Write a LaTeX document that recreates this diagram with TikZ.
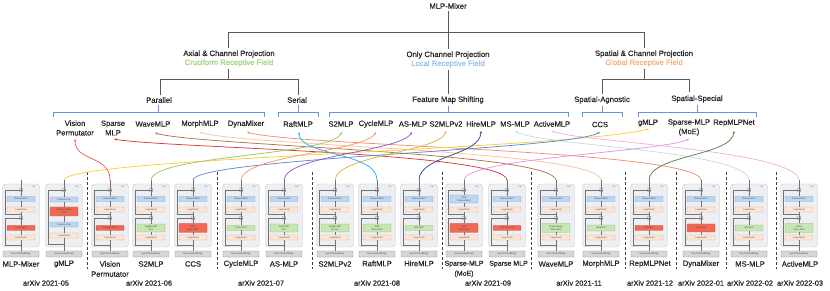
\documentclass[tikz,border=0pt]{standalone}
\usepackage{fontspec}
\setmainfont{Liberation Sans}
\newfontfamily\medfont{Liberation Sans}[FakeBold=0.6]
\usetikzlibrary{arrows.meta,calc}
\definecolor{tline}{RGB}{90,90,90}
\definecolor{brk}{RGB}{100,150,220}
\definecolor{cgreenT}{RGB}{160,210,130}
\definecolor{cblueT}{RGB}{150,190,235}
\definecolor{corangeT}{RGB}{247,175,125}
\definecolor{oF}{RGB}{238,239,243}
\definecolor{oD}{RGB}{195,198,208}
\definecolor{bF}{RGB}{190,215,240}
\definecolor{bD}{RGB}{125,165,215}
\definecolor{lF}{RGB}{252,230,215}
\definecolor{lD}{RGB}{220,175,145}
\definecolor{rF}{RGB}{240,105,85}
\definecolor{rD}{RGB}{205,75,60}
\definecolor{gF}{RGB}{200,230,180}
\definecolor{gD}{RGB}{140,190,110}
\definecolor{eF}{RGB}{215,215,215}
\definecolor{eD}{RGB}{140,140,140}
\definecolor{cGm}{RGB}{255,205,60}
\definecolor{cVip}{RGB}{245,90,90}
\definecolor{cSp}{RGB}{215,60,60}
\definecolor{cWave}{RGB}{175,115,75}
\definecolor{cMorph}{RGB}{250,195,160}
\definecolor{cDyna}{RGB}{245,140,120}
\definecolor{cRaft}{RGB}{40,180,235}
\definecolor{cS2}{RGB}{150,200,100}
\definecolor{cCyc}{RGB}{245,160,90}
\definecolor{cAs}{RGB}{150,90,200}
\definecolor{cS2v}{RGB}{220,180,60}
\definecolor{cHire}{RGB}{45,75,145}
\definecolor{cCcs}{RGB}{90,140,215}
\definecolor{cMoe}{RGB}{225,150,225}
\definecolor{cRep}{RGB}{95,125,75}
\definecolor{cMs}{RGB}{195,220,240}
\definecolor{cAct}{RGB}{240,175,230}
\tikzset{
  every node/.style={inner sep=0pt, outer sep=0pt},
  hd/.style={font=\medfont\fontsize{7.7}{9}\selectfont, align=center, text=black!85, inner sep=2pt},
  nm/.style={font=\medfont\fontsize{7.6}{9.5}\selectfont, align=center, text=black!85},
  bl/.style={font=\medfont\fontsize{7.6}{10}\selectfont, align=center, text=black!85},
  yr/.style={font=\medfont\fontsize{7.4}{9}\selectfont, text=black!85},
  tree/.style={draw=tline, line width=0.6pt},
  bracket/.style={draw=brk, line width=0.6pt},
  sep/.style={draw=black!75, line width=0.6pt, dash pattern=on 3pt off 2pt},
  cv/.style={line width=0.75pt, -{Stealth[length=2.6pt,width=2.4pt]}},
  outerbox/.style={draw=oD, fill=oF, rounded corners=3pt, minimum width=37pt, minimum height=63pt, line width=0.4pt},
  embbox/.style={draw=eD, fill=eF, rounded corners=0.5pt, minimum width=36pt, minimum height=6pt, line width=0.35pt, font=\fontsize{2.4}{2.8}\selectfont, text=black!70},
  ibox/.style={draw, rounded corners=0.6pt, minimum width=28pt, minimum height=5pt, line width=0.3pt, font=\fontsize{2.3}{2.7}\selectfont, align=center, text=black!75},
  bluebox/.style={ibox, fill=bF, draw=bD},
  lnbox/.style={ibox, fill=lF, draw=lD},
  redbox/.style={ibox, fill=rF, draw=rD},
  greenbox/.style={ibox, fill=gF, draw=gD},
  plusnode/.style={circle, draw=black!55, fill=white, minimum size=4pt, line width=0.3pt,
    path picture={\draw[black!55, line width=0.3pt] (path picture bounding box.north)--(path picture bounding box.south) (path picture bounding box.west)--(path picture bounding box.east);}},
  lxlab/.style={font=\fontsize{2.6}{3}\selectfont, text=black!70},
  stem/.style={draw=black!55, line width=0.35pt}
}
% #1 name, #2 cx, #3 top text, #4 top style, #5 top height, #6 bottom text, #7 bottom style, #8 bottom height
\newcommand{\mlpblk}[8]{%
\begin{scope}[shift={(#2,0)}]
\node[outerbox] (#1-o) at (0,215.5) {};
\node[embbox] (#1-in) at (0,254) {Input Embeddings};
\node[plusnode] (#1-p1) at (0,190) {};
\node[#4, minimum height=#5] (#1-a) at (0,199) {#3};
\node[lnbox] (#1-l1) at (0,209.5) {LayerNorm};
\node[plusnode] (#1-p2) at (0,218) {};
\node[#7, minimum height=#8] (#1-b) at (0,228) {#6};
\node[lnbox] (#1-l2) at (0,237.5) {LayerNorm};
\node[lxlab] (#1-lx) at (13,187) {Lx};
\coordinate (#1-top) at (0,180);
\coordinate (#1-r1) at (0,245);
\coordinate (#1-r2) at (0,214.3);
\draw[stem] (#1-in) -- (#1-l2) -- (#1-b) -- (#1-p2) -- (#1-l1) -- (#1-a) -- (#1-p1) -- (#1-top);
\draw[stem] (#1-r1) -| (-16,218) -- (#1-p2);
\draw[stem] (#1-r2) -| (-16,190) -- (#1-p1);
\end{scope}}
\begin{document}
\begin{tikzpicture}[x=1pt,y=-1pt]
\useasboundingbox (0,0) rectangle (830,291);
% ---------- taxonomy tree ----------
\node[hd] (mixer) at (448,6) {MLP-Mixer};
\node[hd] (axial) at (229,58.5) {Axial \& Channel Projection\\{\color{cgreenT}Cruciform Receptive Field}};
\node[hd] (only) at (448,59.5) {Only Channel Projection\\{\color{cblueT}Local Receptive Field}};
\node[hd] (spatial) at (644,58.5) {Spatial \& Channel Projection\\{\color{corangeT}Global Receptive Field}};
\node[hd] (parallel) at (159,100) {Parallel};
\node[hd] (serial) at (297,100) {Serial};
\node[hd] (fms) at (448,100) {Feature Map Shifting};
\node[hd] (agn) at (602,100) {Spatial-Agnostic};
\node[hd] (spec) at (697,99) {Spatial-Special};
\coordinate (bar) at (448,32);
\coordinate (bar2) at (228,79);
\coordinate (bar3) at (644,79);
\coordinate (specup) at (689,79);
\coordinate (specdn) at (689,92);
\draw[tree] (mixer.south) -- (only.north);
\draw[tree] (axial.north -| 228,0) -- (228,32) -- (644,32) -- (spatial.north -| 644,0);
\draw[tree] (axial.south -| 228,0) -- (bar2);
\draw[tree] (parallel.north -| 160,0) -- (160,79) -- (298,79) -- (serial.north -| 298,0);
\draw[tree] (only.south) -- (fms.north);
\draw[tree] (spatial.south) -- (bar3);
\draw[tree] (agn.north) -- (agn.north |- bar3) -- (specup) -- (specdn);
% brackets
\draw[bracket] (parallel.south -| 158,0) -- (158,112);
\draw[bracket] (53,117) -- (53,112) -- (264,112) -- (264,117);
\draw[bracket] (serial.south -| 298,0) -- (298,112);
\draw[bracket] (278,117) -- (278,112) -- (318,112) -- (318,117);
\draw[bracket] (fms.south) -- (448,112);
\draw[bracket] (329,117) -- (329,112) -- (568,112) -- (568,117);
\draw[bracket] (agn.south) -- (602,112);
\draw[bracket] (582,117) -- (582,112) -- (622,112) -- (622,117);
\draw[bracket] (spec.south -| 697,0) -- (697,112);
\draw[bracket] (638,117) -- (638,112) -- (756,112) -- (756,117);
% method names
\node[nm] (n-vip) at (75,128) {Vision\\Permutator};
\node[nm] (n-sp) at (113,128) {Sparse\\MLP};
\node[nm] (n-wave) at (153,124) {WaveMLP};
\node[nm] (n-morph) at (200,124) {MorphMLP};
\node[nm] (n-dyna) at (246,124) {DynaMixer};
\node[nm] (n-raft) at (298,124) {RaftMLP};
\node[nm] (n-s2) at (341,124) {S2MLP};
\node[nm] (n-cyc) at (376,124) {CycleMLP};
\node[nm] (n-as) at (413,124) {AS-MLP};
\node[nm] (n-s2v2) at (446,124) {S2MLPv2};
\node[nm] (n-hire) at (481,124) {HireMLP};
\node[nm] (n-ms) at (515,124) {MS-MLP};
\node[nm] (n-act) at (552,124) {ActiveMLP};
\node[nm] (n-ccs) at (600,124.5) {CCS};
\node[nm] (n-gmlp) at (648,123) {gMLP};
\node[nm] (n-moe) at (689,127.5) {Sparse-MLP\\(MoE)};
\node[nm] (n-rep) at (734,123) {RepMLPNet};
\coordinate (t-vip) at (75,139);
\coordinate (t-sp) at (114,139);
\coordinate (t-wave) at (155,133);
\coordinate (t-morph) at (200,132);
\coordinate (t-dyna) at (247,132);
\coordinate (t-raft) at (299,132);
\coordinate (t-s2) at (342,132);
\coordinate (t-cyc) at (376,132);
\coordinate (t-as) at (412,132);
\coordinate (t-s2v2) at (446,131);
\coordinate (t-hire) at (481,131);
\coordinate (t-ms) at (515,131);
\coordinate (t-act) at (552,131);
\coordinate (t-ccs) at (600,132);
\coordinate (t-gmlp) at (649,129);
\coordinate (t-moe) at (689,139);
\coordinate (t-rep) at (734,131);
% ---------- blocks ----------
\mlpblk{mixer}{21}{Channel MLP}{bluebox}{5pt}{Token MLP}{redbox}{5pt}
% gMLP block
\begin{scope}[shift={(64,0)}]
\node[outerbox] (gmlp-o) at (0,215.5) {};
\node[embbox] (gmlp-in) at (0,254) {Input Embeddings};
\node[plusnode] (gmlp-p1) at (0,190) {};
\node[bluebox] (gmlp-a) at (0,199.5) {Channel Proj};
\node[redbox, minimum height=9pt] (gmlp-s) at (0,211.5) {Spatial Gating\\Unit};
\node[bluebox] (gmlp-c) at (0,224.5) {Channel Proj};
\node[lnbox] (gmlp-l) at (0,235.5) {LayerNorm};
\node[lxlab] (gmlp-lx) at (13,187) {Lx};
\coordinate (gmlp-top) at (0,180);
\coordinate (gmlp-r) at (0,244);
\draw[stem] (gmlp-in) -- (gmlp-l) -- (gmlp-c) -- (gmlp-s) -- (gmlp-a) -- (gmlp-p1) -- (gmlp-top);
\draw[stem] (gmlp-r) -| (-16,190) -- (gmlp-p1);
\end{scope}
\mlpblk{vip}{110}{Channel MLP}{bluebox}{5pt}{Permute MLP}{redbox}{5pt}
\mlpblk{s2}{151}{Channel MLP}{bluebox}{5pt}{Spatial-shift\\MLP}{greenbox}{8pt}
\mlpblk{ccs}{193}{Channel MLP}{bluebox}{5pt}{CCS\\Token MLP}{redbox}{9pt}
\mlpblk{cyc}{241}{Channel MLP}{bluebox}{5pt}{Cycle MLP}{greenbox}{5pt}
\mlpblk{as}{284}{Channel MLP}{bluebox}{5pt}{Axial shift\\MLP}{greenbox}{8pt}
\mlpblk{s2v2}{335}{Channel MLP}{bluebox}{5pt}{Spatial-shift\\MLPv2}{greenbox}{8pt}
\mlpblk{raft}{377}{Channel MLP}{bluebox}{5pt}{Raft\\Token MLP}{greenbox}{8pt}
\mlpblk{hire}{419}{Channel MLP}{bluebox}{5pt}{Hire MLP}{greenbox}{5pt}
\mlpblk{moe}{464}{MoE\\Channel MLP}{bluebox}{8pt}{MoE\\Token MLP}{redbox}{9pt}
\mlpblk{sp}{507}{Channel MLP}{bluebox}{5pt}{Sparse MLP}{redbox}{5pt}
\mlpblk{wave}{556}{Channel MLP}{bluebox}{5pt}{Phase-Aware\\Token MLP}{greenbox}{9pt}
\mlpblk{morph}{601}{Channel MLP}{bluebox}{5pt}{MorphFC}{greenbox}{6pt}
\mlpblk{rep}{649}{Channel MLP}{bluebox}{5pt}{RepMLP}{redbox}{5pt}
\mlpblk{dyna}{701}{Channel MLP}{bluebox}{5pt}{DynaMixer}{redbox}{8pt}
\mlpblk{ms}{749}{Channel MLP}{bluebox}{5pt}{MS-MLP}{greenbox}{6pt}
\mlpblk{act}{799}{Channel MLP}{bluebox}{5pt}{Active\\Token MLP}{greenbox}{9pt}
% separators
\foreach \sx in {87,217,312,442,531,625,676,726,776}
  \draw[sep] (\sx,172) -- (\sx,269);
% block labels
\node[bl] (l-mixer) at (21,264) {MLP-Mixer};
\node[bl] (l-gmlp) at (64,264) {gMLP};
\node[bl] (l-vip) at (110,269) {Vision\\Permutator};
\node[bl] (l-s2) at (151,264) {S2MLP};
\node[bl] (l-ccs) at (193,264) {CCS};
\node[bl] (l-cyc) at (241,264) {CycleMLP};
\node[bl] (l-as) at (284,264) {AS-MLP};
\node[bl] (l-s2v2) at (335,264) {S2MLPv2};
\node[bl] (l-raft) at (377,263.5) {RaftMLP};
\node[bl] (l-hire) at (419,263.5) {HireMLP};
\node[bl, font=\medfont\fontsize{7}{10}\selectfont] (l-moe) at (464,269) {Sparse-MLP\\(MoE)};
\node[bl, font=\medfont\fontsize{7}{10}\selectfont] (l-sp) at (508.5,264) {Sparse MLP};
\node[bl] (l-wave) at (556,264) {WaveMLP};
\node[bl] (l-morph) at (601,264) {MorphMLP};
\node[bl] (l-rep) at (650,264) {RepMLPNet};
\node[bl] (l-dyna) at (701,264) {DynaMixer};
\node[bl] (l-ms) at (750,264) {MS-MLP};
\node[bl] (l-act) at (800,264) {ActiveMLP};
% years
\node[yr] (y1) at (46,283) {arXiv 2021-05};
\node[yr] (y2) at (149,283) {arXiv 2021-06};
\node[yr] (y3) at (261,283) {arXiv 2021-07};
\node[yr] (y4) at (377,283) {arXiv 2021-08};
\node[yr] (y5) at (488,283) {arXiv 2021-09};
\node[yr] (y6) at (579,283) {arXiv 2021-11};
\node[yr] (y7) at (650,283) {arXiv 2021-12};
\node[yr] (y8) at (701,283) {arXiv 2022-01};
\node[yr] (y9) at (750,283) {arXiv 2022-02};
\node[yr] (y10) at (800,283) {arXiv 2022-03};
% ---------- curves ----------
\draw[cv, cMs] (ms-top) .. controls (746,150) and (540,146) .. (t-ms);
\draw[cv, cAct] (act-top) .. controls (796,150) and (580,142) .. (t-act);
\draw[cv, cMorph] (morph-top) .. controls (598,150) and (240,146) .. (t-morph);
\draw[cv, cDyna] (dyna-top) .. controls (698,150) and (290,146) .. (t-dyna);
\draw[cv, cWave] (wave-top) .. controls (552,152) and (200,146) .. (t-wave);
\draw[cv, cSp] (sp-top) .. controls (505,152) and (160,148) .. (t-sp);
\draw[cv, cMoe] (moe-top) .. controls (466,158) and (660,152) .. (t-moe);
\draw[cv, cGm] (gmlp-top) .. controls (66,158) and (560,150) .. (t-gmlp);
\draw[cv, cCcs] (ccs-top) .. controls (196,158) and (570,150) .. (t-ccs);
\draw[cv, cS2] (s2-top) .. controls (153,155) and (330,156) .. (t-s2);
\draw[cv, cCyc] (cyc-top) .. controls (243,155) and (365,152) .. (t-cyc);
\draw[cv, cAs] (as-top) .. controls (286,155) and (400,152) .. (t-as);
\draw[cv, cS2v] (s2v2-top) .. controls (337,155) and (440,152) .. (t-s2v2);
\draw[cv, cRaft] (raft-top) .. controls (377,152) and (299,156) .. (t-raft);
\draw[cv, cHire] (hire-top) .. controls (420,155) and (480,156) .. (t-hire);
\draw[cv, cRep] (rep-top) .. controls (650,155) and (732,156) .. (t-rep);
\draw[cv, cVip] (vip-top) .. controls (110,155) and (75,162) .. (t-vip);
\end{tikzpicture}
\end{document}
